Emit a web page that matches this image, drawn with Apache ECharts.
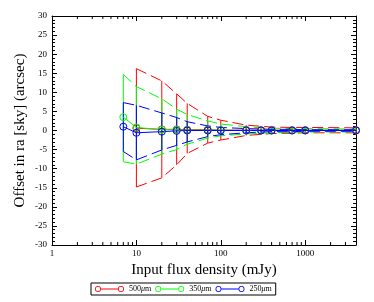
<!DOCTYPE html>
<html><head><meta charset="utf-8">
<script src="https://cdn.jsdelivr.net/npm/echarts@6/dist/echarts.min.js"></script>
<style>html,body{margin:0;padding:0;background:#fff}#c{width:374px;height:302px}</style>
</head><body><div id="c"></div>
<script>
// ---- data ----
const fluxRed = [10, 20, 30, 40, 70, 100, 200, 300, 400, 700, 1000, 4000];
const fluxGB  = [7, 10, 20, 30, 40, 70, 100, 200, 300, 400, 700, 1000, 4000];

const red500Mean  = [0.6, 0.3, 0.3, 0.2, 0.2, 0.1, 0.1, 0.1, 0.1, 0.1, 0.1, 0.1];
const red500Upper = [16.2, 13.0, 9.6, 7.1, 3.7, 2.7, 1.4, 1.1, 0.9, 0.8, 0.8, 0.7];
const red500Lower = [-14.8, -12.4, -9.0, -6.0, -3.3, -2.5, -1.3, -1.0, -0.8, -0.7, -0.6, -0.6];

const green350Mean  = [3.5, 0.8, 0.2, 0.2, 0.1, 0.1, 0.1, 0.0, 0.0, 0.0, 0.0, 0.0, 0.0];
const green350Upper = [14.7, 11.5, 8.3, 5.6, 4.2, 2.5, 1.7, 1.0, 0.7, 0.6, 0.5, 0.5, 0.4];
const green350Lower = [-8.2, -8.8, -6.2, -5.0, -3.6, -2.0, -1.4, -0.9, -0.7, -0.6, -0.5, -0.4, -0.4];

const blue250Mean  = [1.0, -0.6, -0.3, -0.1, 0.0, 0.0, 0.0, 0.0, 0.0, 0.0, 0.0, 0.0, 0.0];
const blue250Upper = [7.3, 6.6, 4.6, 3.4, 2.3, 1.2, 0.8, 0.5, 0.4, 0.3, 0.3, 0.2, 0.2];
const blue250Lower = [-5.5, -7.7, -5.1, -3.9, -3.0, -1.6, -1.1, -0.6, -0.4, -0.3, -0.3, -0.2, -0.2];

const seriesNames = ['500μm', '350μm', '250μm'];
const seriesColors = ['#ff0000', '#00ff00', '#0000ff'];

const xMajorTicks = [1, 10, 100, 1000];
const xMinorTicks = [2,3,4,5,6,7,8,9,20,30,40,50,60,70,80,90,200,300,400,500,600,700,800,900,2000,3000];
const yMin = -30, yMax = 30, yStep = 5;
const xMin = 1, xMax = 4000;

// ---- build ----
const FONT = "'Liberation Serif','DejaVu Serif',serif";
const zip = (xs, ys) => xs.map((x, i) => [x, ys[i]]);
const zip3 = (xs, a, b) => xs.map((x, i) => [x, a[i], b[i]]);

const ICON = 'path://M0,3A3,3 0 1,1 6,3A3,3 0 1,1 0,3Z M0.8,3A2.2,2.2 0 1,0 5.2,3A2.2,2.2 0 1,0 0.8,3Z ' +
  'M6,2.6L23,2.6L23,3.4L6,3.4Z ' +
  'M23,3A3,3 0 1,1 29,3A3,3 0 1,1 23,3Z M23.8,3A2.2,2.2 0 1,0 28.2,3A2.2,2.2 0 1,0 23.8,3Z';

function groupSeries(name, color, xs, mean, up, lo) {
  const dash = { color: color, width: 1, type: [11, 5] };
  return [
    { type: 'line', name: name + ' up', data: zip(xs, up), symbol: 'none', lineStyle: dash, silent: true },
    { type: 'line', name: name + ' lo', data: zip(xs, lo), symbol: 'none', lineStyle: dash, silent: true },
    { type: 'custom', name: name + ' err', data: zip3(xs, lo, up), encode: { x: 0, y: [1, 2] }, silent: true,
      renderItem: function (params, api) {
        const p1 = api.coord([api.value(0), api.value(1)]);
        const p2 = api.coord([api.value(0), api.value(2)]);
        return { type: 'line', shape: { x1: p1[0], y1: p1[1], x2: p2[0], y2: p2[1] },
                 style: { stroke: color, lineWidth: 1 } };
      } },
    { type: 'line', name: name, data: zip(xs, mean), symbol: 'circle', symbolSize: 7,
      itemStyle: { color: 'rgba(0,0,0,0)', borderColor: color, borderWidth: 1 },
      lineStyle: { color: color, width: 1 }, silent: true }
  ];
}

const minorTickSeries = {
  type: 'custom', name: 'minor', silent: true, z: 10,
  data: xMinorTicks.map(v => [v, 0]), encode: { x: 0, y: 1 },
  renderItem: function (params, api) {
    const cs = params.coordSys;
    const x = api.coord([api.value(0), 0])[0];
    const yb = cs.y + cs.height, yt = cs.y;
    return { type: 'group', children: [
      { type: 'line', shape: { x1: x, y1: yb, x2: x, y2: yb - 3 }, style: { stroke: '#000', lineWidth: 1 } },
      { type: 'line', shape: { x1: x, y1: yt, x2: x, y2: yt + 3 }, style: { stroke: '#000', lineWidth: 1 } }
    ] };
  }
};

const axisText = { color: '#000', fontFamily: FONT, fontSize: 9 };
const xAxisBase = { type: 'log', logBase: 10, min: xMin, max: xMax,
  axisLine: { show: true, onZero: false, lineStyle: { color: '#000', width: 1 } },
  axisTick: { show: true, inside: true, length: 5, lineStyle: { color: '#000' } },
  splitLine: { show: false }, minorTick: { show: false } };
const yAxisBase = { type: 'value', min: yMin, max: yMax, interval: yStep,
  axisLine: { show: true, onZero: false, lineStyle: { color: '#000', width: 1 } },
  axisTick: { show: true, inside: true, length: 5, lineStyle: { color: '#000' } },
  minorTick: { show: true, splitNumber: 5, length: 3, lineStyle: { color: '#000' } },
  splitLine: { show: false } };

const series = [].concat(
  groupSeries(seriesNames[0], seriesColors[0], fluxRed, red500Mean, red500Upper, red500Lower),
  groupSeries(seriesNames[1], seriesColors[1], fluxGB, green350Mean, green350Upper, green350Lower),
  groupSeries(seriesNames[2], seriesColors[2], fluxGB, blue250Mean, blue250Upper, blue250Lower),
  [minorTickSeries]
);

const option = {
  animation: false,
  backgroundColor: '#fff',
  grid: { left: 52, right: 18, top: 16, bottom: 57, containLabel: false },
  xAxis: [
    Object.assign({}, xAxisBase, { position: 'bottom',
      name: 'Input flux density (mJy)', nameLocation: 'middle', nameGap: 12,
      nameTextStyle: { color: '#000', fontFamily: FONT, fontSize: 15 },
      axisLabel: Object.assign({ margin: 4, showMaxLabel: false,
        formatter: v => (xMajorTicks.indexOf(Math.round(v)) >= 0 ? String(Math.round(v)) : '') }, axisText) }),
    Object.assign({}, xAxisBase, { position: 'top', axisLabel: { show: false } })
  ],
  yAxis: [
    Object.assign({}, yAxisBase, { position: 'left',
      name: 'Offset in ra [sky] (arcsec)', nameLocation: 'middle', nameGap: 24, nameMoveOverlap: false,
      nameTextStyle: { color: '#000', fontFamily: FONT, fontSize: 15 },
      axisLabel: Object.assign({ margin: 5 }, axisText) }),
    Object.assign({}, yAxisBase, { position: 'right', axisLabel: { show: false } })
  ],
  legend: {
    left: 91, top: 283, orient: 'horizontal',
    padding: [2, 4], borderColor: '#000', borderWidth: 1, backgroundColor: '#fff',
    itemWidth: 29, itemHeight: 6, itemGap: 4,
    textStyle: { color: '#000', fontFamily: FONT, fontSize: 8,
      rich: { i: { fontStyle: 'italic', fontFamily: FONT, fontSize: 8, color: '#000' } } },
    formatter: name => name.replace('μ', '{i|μ}'),
    selectedMode: false,
    data: seriesNames.map((n, i) => ({ name: n, icon: ICON,
      itemStyle: { color: seriesColors[i], borderWidth: 0 } }))
  },
  series: series
};

const chart = echarts.init(document.getElementById('c'), null, { renderer: 'canvas' });
chart.setOption(option);
</script>
</body></html>
